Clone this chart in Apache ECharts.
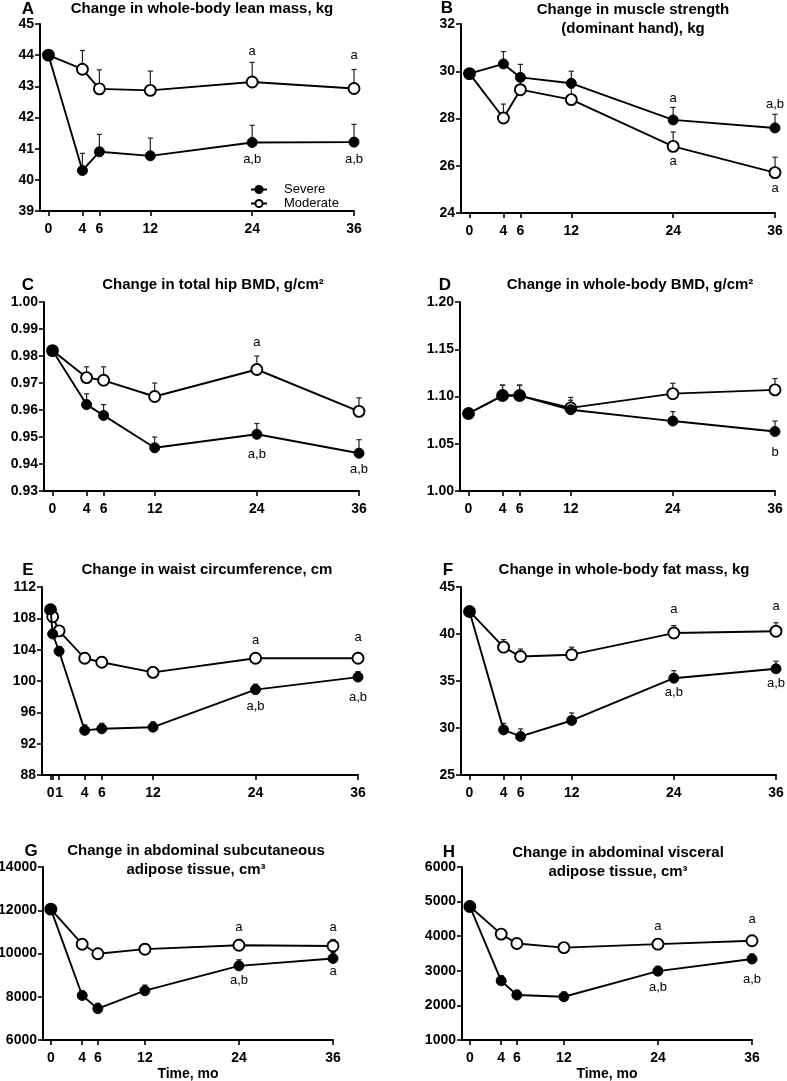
<!DOCTYPE html>
<html>
<head>
<meta charset="utf-8">
<script src="https://cdn.jsdelivr.net/npm/echarts@6/dist/echarts.min.js"></script>
<style>
html, body { margin: 0; padding: 0; background: #fff; }
#chart { width: 787px; height: 1081px; }
</style>
</head>
<body>
<div id="chart"></div>
<script>
// time points, months
const months = [0, 4, 6, 12, 24, 36];
const monthsWaist = [0, 0.25, 1, 4, 6, 12, 24, 36];
const monthTicks = [0, 4, 6, 12, 24, 36];
const waistTicks = [0, 0.25, 1, 4, 6, 12, 24, 36];
const waistTickLabels = [0, 1, 4, 6, 12, 24, 36];

// A - whole-body lean mass
const leanSevere = [44.0, 40.3, 40.9, 40.77, 41.2, 41.21];
const leanSevereSE = [0, 0.55, 0.56, 0.57, 0.55, 0.57];
const leanModerate = [44.0, 43.55, 42.92, 42.87, 43.14, 42.93];
const leanModerateSE = [0, 0.6, 0.61, 0.62, 0.63, 0.61];
const leanNotes = [[24, 44.12, 'a'], [36, 43.99, 'a'], [24, 40.67, 'a,b'], [36, 40.67, 'a,b']];

// B - muscle strength
const gripSevere = [29.9, 30.31, 29.74, 29.49, 27.94, 27.6];
const gripSevereSE = [0, 0.52, 0.55, 0.51, 0.53, 0.58];
const gripModerate = [29.9, 28.02, 29.22, 28.8, 26.82, 25.71];
const gripModerateSE = [0, 0.59, 0.5, 0.5, 0.61, 0.65];
const gripNotes = [[24, 28.86, 'a'], [36, 28.59, 'a,b'], [24, 26.2, 'a'], [36, 25.02, 'a']];

// C - total hip BMD
const hipSevere = [0.982, 0.962, 0.958, 0.946, 0.951, 0.944];
const hipSevereSE = [0, 0.004, 0.004, 0.004, 0.004, 0.005];
const hipModerate = [0.982, 0.972, 0.971, 0.965, 0.975, 0.9595];
const hipModerateSE = [0, 0.004, 0.005, 0.005, 0.005, 0.005];
const hipNotes = [[24, 0.9852, 'a'], [24, 0.9437, 'a,b'], [36, 0.938, 'a,b']];

// D - whole-body BMD
const wbBmdSevere = [1.082, 1.101, 1.101, 1.086, 1.074, 1.063];
const wbBmdSevereSE = [0, 0.011, 0.011, 0.01, 0.01, 0.011];
const wbBmdModerate = [1.082, 1.101, 1.101, 1.088, 1.103, 1.107];
const wbBmdModerateSE = [0, 0.011, 0.011, 0.011, 0.011, 0.012];
const wbBmdNotes = [[36, 1.041, 'b']];

// E - waist circumference
const waistSevere = [109.1, 106.0, 103.8, 93.7, 93.9, 94.1, 98.9, 100.5];
const waistSevereSE = [0, 0.6, 0.6, 0.7, 0.7, 0.7, 0.7, 0.7];
const waistModerate = [109.1, 108.2, 106.4, 102.9, 102.4, 101.1, 102.9, 102.9];
const waistModerateSE = [0, 0.6, 0.6, 0.7, 0.7, 0.7, 0.7, 0.7];
const waistNotes = [[24, 105.2, 'a'], [36, 105.5, 'a'], [24, 96.8, 'a,b'], [36, 97.9, 'a,b']];

// F - whole-body fat mass
const fatSevere = [42.4, 29.8, 29.1, 30.8, 35.3, 36.3];
const fatSevereSE = [0, 0.7, 0.8, 0.8, 0.8, 0.8];
const fatModerate = [42.4, 38.6, 37.6, 37.8, 40.1, 40.3];
const fatModerateSE = [0, 0.8, 0.8, 0.8, 0.8, 0.9];
const fatNotes = [[24, 42.58, 'a'], [36, 42.94, 'a'], [24, 33.77, 'a,b'], [36, 34.7, 'a,b']];

// G - abdominal subcutaneous adipose tissue
const satSevere = [12050, 8060, 7450, 8280, 9430, 9770];
const satSevereSE = [0, 200, 250, 260, 280, 280];
const satModerate = [12050, 10430, 9990, 10200, 10380, 10350];
const satModerateSE = [0, 200, 250, 260, 270, 300];
const satNotes = [[24, 11200, 'a'], [36, 11200, 'a'], [24, 8770, 'a,b'], [36, 9185, 'a']];

// H - abdominal visceral adipose tissue
const vatSevere = [4860, 2710, 2300, 2250, 2990, 3340];
const vatSevereSE = [0, 150, 140, 140, 140, 150];
const vatModerate = [4860, 4060, 3790, 3670, 3770, 3870];
const vatModerateSE = [0, 130, 120, 130, 140, 150];
const vatNotes = [[24, 4270, 'a'], [36, 4490, 'a'], [24, 2520, 'a,b'], [36, 2750, 'a,b']];

const FONT = '"Liberation Sans", Arial, Helvetica, sans-serif';

const panels = [
    { letter: 'A', title: ['Change in whole-body lean mass, kg'], letterAt: [28, 9], titleAt: [202, 9],
      grid: { left: 40, top: 24, width: 314, height: 187 }, y: [39, 45, 1], dec: 0,
      t: months, ticks: monthTicks, labels: monthTicks,
      sev: leanSevere, sevSE: leanSevereSE, mod: leanModerate, modSE: leanModerateSE, notes: leanNotes },
    { letter: 'B', title: ['Change in muscle strength', '(dominant hand), kg'], letterAt: [447, 8], titleAt: [633, 10],
      grid: { left: 461, top: 24, width: 314, height: 189 }, y: [24, 32, 2], dec: 0,
      t: months, ticks: monthTicks, labels: monthTicks,
      sev: gripSevere, sevSE: gripSevereSE, mod: gripModerate, modSE: gripModerateSE, notes: gripNotes },
    { letter: 'C', title: ['Change in total hip BMD, g/cm²'], letterAt: [28, 285], titleAt: [213, 285],
      grid: { left: 44, top: 302, width: 315, height: 189 }, y: [0.93, 1.0, 0.01], dec: 2,
      t: months, ticks: monthTicks, labels: monthTicks,
      sev: hipSevere, sevSE: hipSevereSE, mod: hipModerate, modSE: hipModerateSE, notes: hipNotes },
    { letter: 'D', title: ['Change in whole-body BMD, g/cm²'], letterAt: [445, 285], titleAt: [630, 285],
      grid: { left: 460, top: 302, width: 315, height: 189 }, y: [1.0, 1.2, 0.05], dec: 2,
      t: months, ticks: monthTicks, labels: monthTicks,
      sev: wbBmdSevere, sevSE: wbBmdSevereSE, mod: wbBmdModerate, modSE: wbBmdModerateSE, notes: wbBmdNotes },
    { letter: 'E', title: ['Change in waist circumference, cm'], letterAt: [28, 570], titleAt: [207, 570],
      grid: { left: 42, top: 587, width: 316, height: 188 }, y: [88, 112, 4], dec: 0,
      t: monthsWaist, ticks: waistTicks, labels: waistTickLabels,
      sev: waistSevere, sevSE: waistSevereSE, mod: waistModerate, modSE: waistModerateSE, notes: waistNotes },
    { letter: 'F', title: ['Change in whole-body fat mass, kg'], letterAt: [448, 570], titleAt: [624, 570],
      grid: { left: 461, top: 587, width: 315, height: 188 }, y: [25, 45, 5], dec: 0,
      t: months, ticks: monthTicks, labels: monthTicks,
      sev: fatSevere, sevSE: fatSevereSE, mod: fatModerate, modSE: fatModerateSE, notes: fatNotes },
    { letter: 'G', title: ['Change in abdominal subcutaneous', 'adipose tissue, cm³'], letterAt: [31, 851], titleAt: [196, 851],
      grid: { left: 43, top: 867, width: 290, height: 173 }, y: [6000, 14000, 2000], dec: 0,
      t: months, ticks: monthTicks, labels: monthTicks, xName: 'Time, mo',
      sev: satSevere, sevSE: satSevereSE, mod: satModerate, modSE: satModerateSE, notes: satNotes },
    { letter: 'H', title: ['Change in abdominal visceral', 'adipose tissue, cm³'], letterAt: [449, 852], titleAt: [618, 853],
      grid: { left: 462, top: 867, width: 290, height: 173 }, y: [1000, 6000, 1000], dec: 0,
      t: months, ticks: monthTicks, labels: monthTicks, xName: 'Time, mo',
      sev: vatSevere, sevSE: vatSevereSE, mod: vatModerate, modSE: vatModerateSE, notes: vatNotes }
];

// upper error bar with a small cap
function errorBar(params, api) {
    const x = api.value(0), y = api.value(1), e = api.value(2);
    if (!e) return null;
    const p0 = api.coord([x, y]);
    const p1 = api.coord([x, y + e]);
    const st = { stroke: '#222', lineWidth: 1.2 };
    return {
        type: 'group',
        children: [
            { type: 'line', shape: { x1: p0[0], y1: p0[1], x2: p1[0], y2: p1[1] }, style: st },
            { type: 'line', shape: { x1: p1[0] - 2.6, y1: p1[1], x2: p1[0] + 2.6, y2: p1[1] }, style: st }
        ]
    };
}

const grids = [], xAxes = [], yAxes = [], series = [], graphics = [];
const axisLine = { show: true, onZero: false, lineStyle: { color: '#000', width: 2 } };
const tickStyle = { color: '#000', width: 1.6 };
const labelFont = { color: '#000', fontWeight: 'bold', fontSize: 14, fontFamily: FONT };

panels.forEach((p, i) => {
    // keep the grids where they are, even if a tick label runs off the page
    grids.push(Object.assign({ containLabel: false, outerBoundsMode: 'none' }, p.grid));
    xAxes.push({
        type: 'value', gridIndex: i, min: -1, max: 36,
        name: p.xName || '', nameLocation: 'middle', nameGap: 27,
        nameTextStyle: { color: '#000', fontWeight: 'bold', fontSize: 14, fontFamily: FONT },
        axisLine: axisLine,
        axisTick: { show: true, length: 5, customValues: p.ticks, lineStyle: tickStyle },
        axisLabel: Object.assign({ customValues: p.labels, margin: 11, hideOverlap: false }, labelFont),
        splitLine: { show: false }
    });
    yAxes.push({
        type: 'value', gridIndex: i, min: p.y[0], max: p.y[1], interval: p.y[2],
        axisLine: axisLine,
        axisTick: { show: true, length: 5, lineStyle: tickStyle },
        axisLabel: Object.assign({ margin: 6, formatter: v => Number(v).toFixed(p.dec) }, labelFont),
        splitLine: { show: false }
    });

    const mk = (vals, se) => p.t.map((t, k) => [t, vals[k], se[k]]);
    series.push({
        type: 'custom', xAxisIndex: i, yAxisIndex: i, z: 1, silent: true,
        renderItem: errorBar, data: mk(p.mod, p.modSE), encode: { x: 0, y: 1 }
    });
    series.push({
        type: 'custom', xAxisIndex: i, yAxisIndex: i, z: 1, silent: true,
        renderItem: errorBar, data: mk(p.sev, p.sevSE), encode: { x: 0, y: 1 }
    });
    series.push({
        name: 'Moderate', type: 'line', xAxisIndex: i, yAxisIndex: i, z: 2,
        data: p.t.map((t, k) => [t, p.mod[k]]),
        symbol: 'circle', symbolSize: 11,
        lineStyle: { color: '#000', width: 1.9 },
        itemStyle: { color: '#fff', borderColor: '#000', borderWidth: 1.9 }
    });
    series.push({
        name: 'Severe', type: 'line', xAxisIndex: i, yAxisIndex: i, z: 3,
        data: p.t.map((t, k) => [t, p.sev[k]]),
        symbol: 'circle', symbolSize: 10,
        lineStyle: { color: '#000', width: 1.9 },
        itemStyle: { color: '#000', borderColor: '#000', borderWidth: 1 }
    });
    const notes = p.notes;
    series.push({
        type: 'custom', xAxisIndex: i, yAxisIndex: i, z: 4, silent: true,
        data: notes.map(n => [n[0], n[1]]), encode: { x: 0, y: 1 },
        renderItem: (params, api) => {
            const pt = api.coord([api.value(0), api.value(1)]);
            return {
                type: 'text', x: pt[0], y: pt[1],
                style: { text: notes[params.dataIndex][2], fill: '#000', font: '13px ' + FONT,
                         textAlign: 'center', textVerticalAlign: 'middle' }
            };
        }
    });

    graphics.push({
        type: 'text', x: p.letterAt[0], y: p.letterAt[1],
        style: { text: p.letter, fill: '#000', font: 'bold 17px ' + FONT, textAlign: 'center', textVerticalAlign: 'middle' }
    });
    p.title.forEach((line, k) => {
        graphics.push({
            type: 'text', x: p.titleAt[0], y: p.titleAt[1] + k * 19,
            style: { text: line, fill: '#000', font: 'bold 15px ' + FONT, textAlign: 'center', textVerticalAlign: 'middle' }
        });
    });
});

const chart = echarts.init(document.getElementById('chart'));
chart.setOption({
    animation: false,
    backgroundColor: '#fff',
    grid: grids,
    xAxis: xAxes,
    yAxis: yAxes,
    legend: {
        data: ['Severe', 'Moderate'],
        orient: 'vertical', left: 245, top: 178, padding: 5,
        itemWidth: 16, itemHeight: 9, itemGap: 1,
        textStyle: { color: '#000', fontSize: 13, lineHeight: 13, fontFamily: FONT, padding: [0, 0, 0, 12] },
        selectedMode: false
    },
    graphic: graphics,
    series: series
});
</script>
</body>
</html>
